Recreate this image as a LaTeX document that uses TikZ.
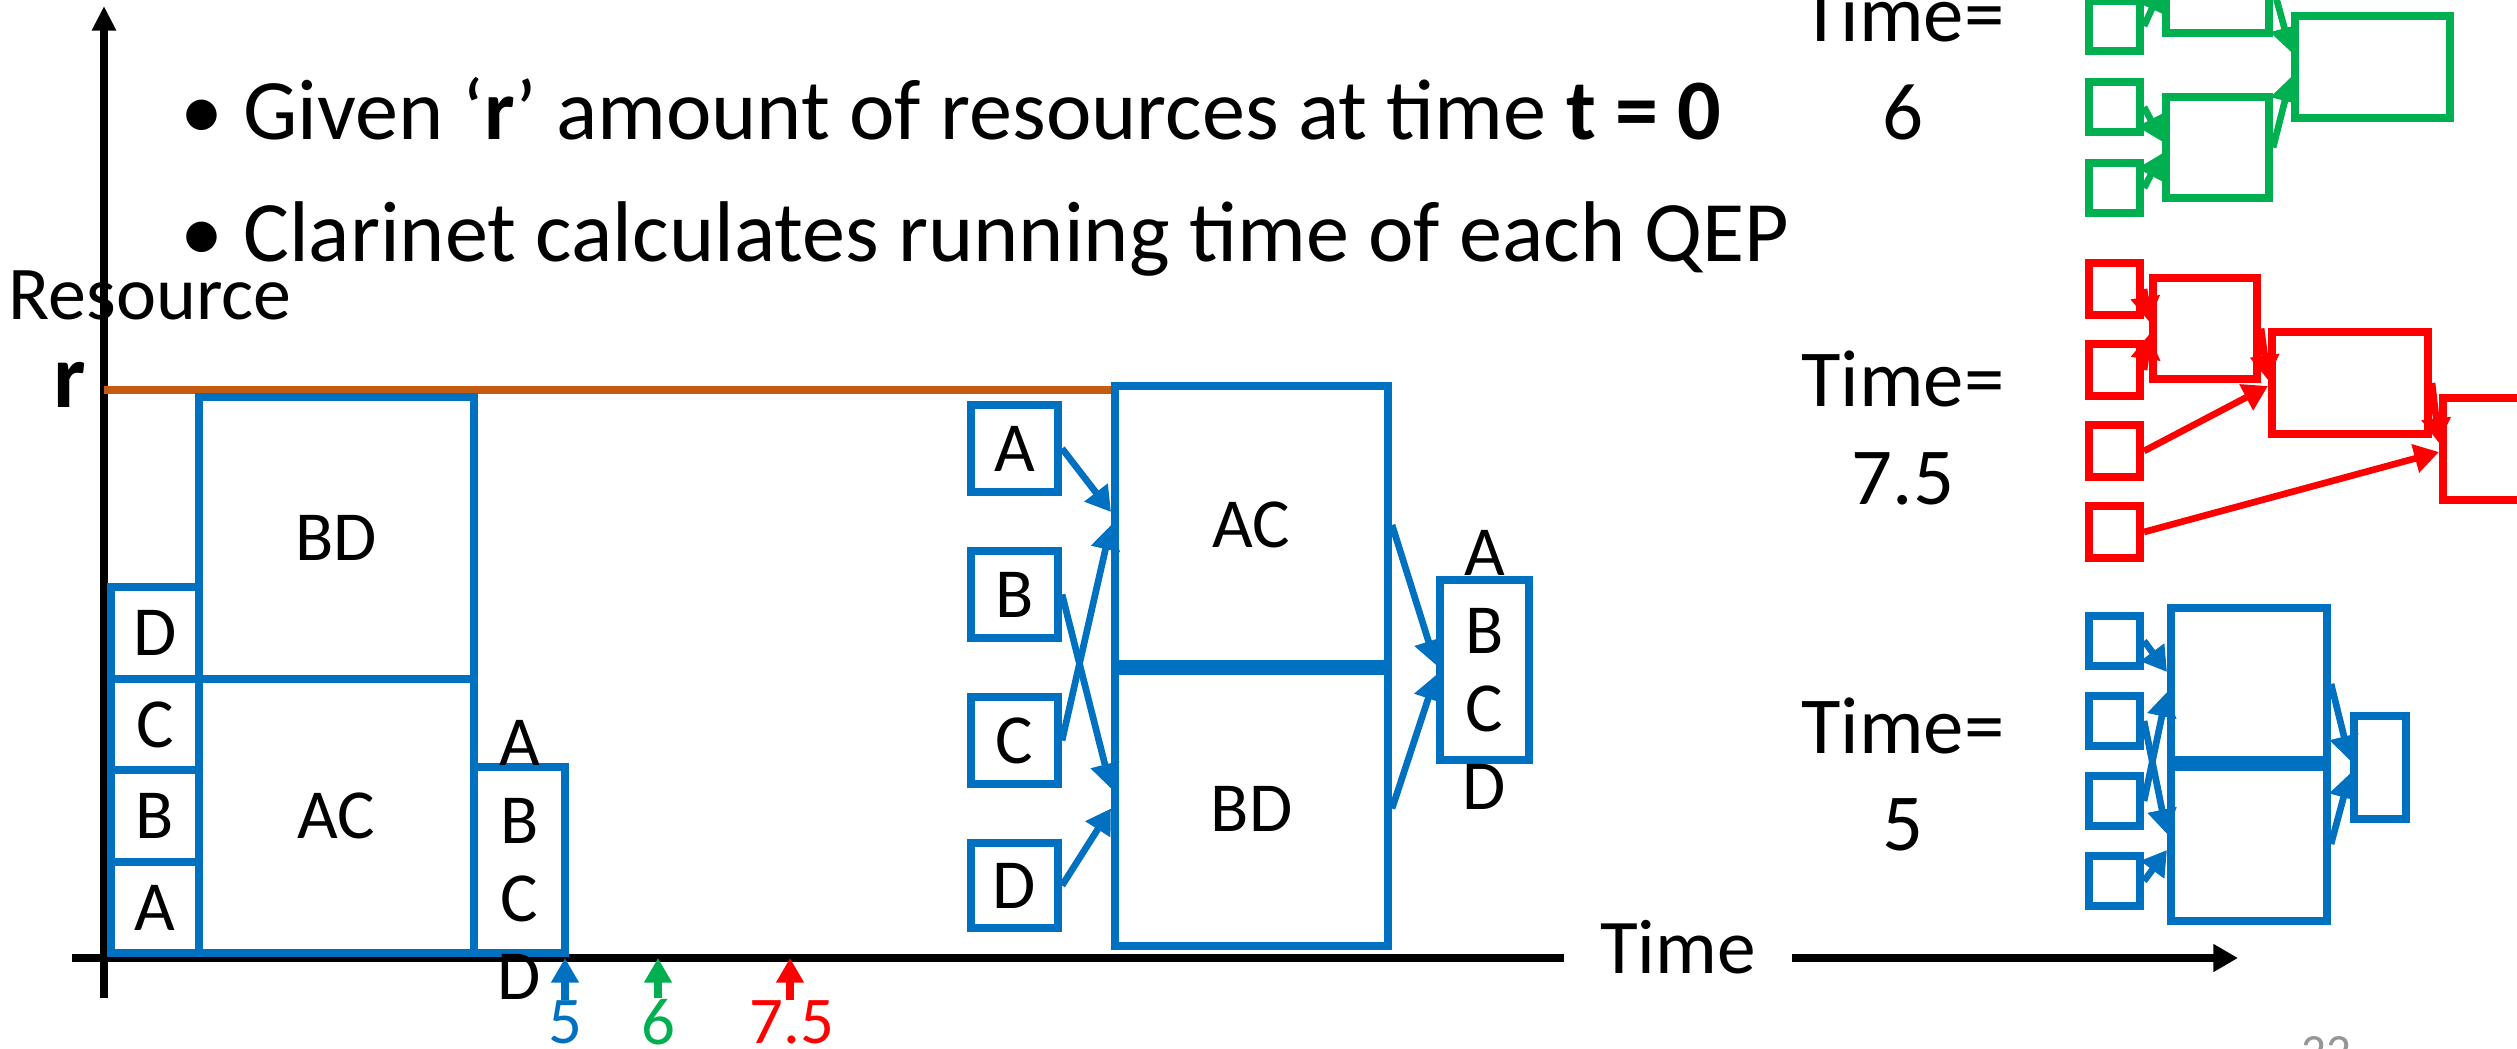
\documentclass[tikz,border=0pt]{standalone}
\usepackage{fontspec}
\setmainfont{Carlito}
\usepackage{xcolor}
\definecolor{qblue}{RGB}{0,112,192}
\definecolor{qgreen}{RGB}{0,176,80}
\definecolor{qred}{RGB}{255,0,0}
\definecolor{qorange}{RGB}{197,90,17}
\definecolor{qgray}{RGB}{150,150,150}
\usetikzlibrary{arrows.meta,positioning,fit,calc}

\begin{document}
\begin{tikzpicture}[x=0.01cm, y=-0.01cm, font=\fontsize{20}{22.2}\selectfont,
    qep/.style={draw=#1, line width=2.3pt, inner sep=0pt},
    qep/.default=qblue,
    stack/.style={align=center, inner sep=0pt},
    flow/.style={draw=#1, line width=1.9pt, -{Triangle[length=7pt,width=8pt]}},
    flow/.default=qblue,
    axis/.style={line width=2.2pt},
    tick/.style={draw=#1, line width=2.2pt, -{Triangle[length=7pt,width=7.5pt]}},
    point/.style={anchor=base west, inner sep=0pt, font=\fontsize{24.5}{28}\selectfont},
    tlabel/.style={align=center, font=\fontsize{23}{27.6}\selectfont},
    tnum/.style={inner sep=0pt, text=#1, font=\fontsize{19}{22}\selectfont},
  ]
  \useasboundingbox (0,0) rectangle (2517,1049);
  \clip (0,0) rectangle (2517,1049);

  % Bullet points
  \node[point] (pt1) at (180,140)
    {\textbullet\ Given `\textbf{r}' amount of resources at time \textbf{t = 0}};
  \node[point] (pt2) at (180,262)
    {\textbullet\ Clarinet calculates running time of each QEP};

  % Axes
  \coordinate (origin) at (104,958);
  \coordinate (ytop) at (104,6);
  \coordinate (ybot) at (104,998);
  \coordinate (xleft) at (72,958);
  \coordinate (xend) at (2238,958);
  \draw[axis, -{Triangle[length=7pt,width=6.5pt]}] (ybot) -- (ytop);
  \node[font=\fontsize{22}{26}\selectfont, inner sep=0.35cm] (timelbl) at (1678,947) {Time};
  \draw[axis] (xleft) -- (xleft -| timelbl.west);
  \draw[axis, -{Triangle[length=7pt,width=7.5pt]}] (timelbl.east |- origin) -- (xend);
  \node[anchor=base west, inner sep=0pt, font=\fontsize{21.6}{24}\selectfont] (reslbl) at (8,320) {Resource};
  \node[anchor=base, inner sep=0pt, font=\fontsize{26}{30}\selectfont\bfseries] (rlbl) at (70,408) {r};

  % Resource limit r
  \coordinate (rlevel) at (104,390);
  \node[qep, fit={(1115,386) (1388,664)}, label=center:AC] (mac) {};
  \draw[qorange, line width=2.2pt] (rlevel) -- (rlevel -| mac.west);

  % Left: schedule of the plan
  \node[qep, fit={(111,862) (199,953)}, label=center:A] (sa) {};
  \node[qep, fit={(111,770) (199,862)}, label=center:B] (sb) {};
  \node[qep, fit={(111,679) (199,770)}, label=center:C] (sc) {};
  \node[qep, fit={(111,587) (199,679)}, label=center:D] (sd) {};
  \node[qep, fit={(199,679) (474,953)}, label=center:AC] (sac) {};
  \node[qep, fit={(199,397) (474,679)}, label=center:BD] (sbd) {};
  \node[qep, fit={(474,767) (565,953)}] (sabcd) {};
  \node[stack] at (sabcd) {A\\B\\C\\D};

  % Finish times on the time axis
  \node[tnum=qblue] (t5) at (565,1022) {5};
  \node[tnum=qgreen] (t6) at (658,1022) {6};
  \node[tnum=qred] (t75) at (792,1022) {7.5};
  \draw[tick=qblue] (t5.north) -- (t5.north |- origin);
  \draw[tick=qgreen] (t6.north) -- (t6.north |- origin);
  \draw[tick=qred] ([xshift=-0.02cm]t75.north) -- ([xshift=-0.02cm]t75.north |- origin);

  % Middle: the QEP
  \node[qep, fit={(971,405) (1058,492)}, label=center:A] (ma) {};
  \node[qep, fit={(971,551) (1058,638)}, label=center:B] (mb) {};
  \node[qep, fit={(971,697) (1058,784)}, label=center:C] (mc) {};
  \node[qep, fit={(971,843) (1058,928)}, label=center:D] (md) {};
  \node[qep, fit={(1115,671) (1388,946)}, label=center:BD] (mbd) {};
  \node[qep, fit={(1440,580) (1529,760)}] (mout) {};
  \node[stack] at (mout) {A\\B\\C\\D};
  \draw[flow] (ma.east) -- ([yshift=0.13cm]mac.west);
  \draw[flow] (mc.east) -- (mac.west);
  \draw[flow] (mb.east) -- ([yshift=0.2cm]mbd.west);
  \draw[flow] (md.east) -- (mbd.west);
  \draw[flow] (mac.east) -- ([yshift=0.05cm]mout.west);
  \draw[flow] (mbd.east) -- ([yshift=-0.05cm]mout.west);

  % Right: plans at each time
  \node[tlabel] (tl6) at (1903,63) {Time=\\6};
  \node[tlabel] (tl75) at (1903,428) {Time=\\7.5};
  \node[tlabel] (tl5) at (1903,774) {Time=\\5};

  % Time = 6
  \node[qep=qgreen, fit={(2089,1) (2140,51)}] (g1) {};
  \node[qep=qgreen, fit={(2089,82) (2140,132)}] (g2) {};
  \node[qep=qgreen, fit={(2089,163) (2140,213)}] (g3) {};
  \node[qep=qgreen, fit={(2166,-60) (2269,33)}] (gj1) {};
  \node[qep=qgreen, fit={(2166,97) (2269,198)}] (gj2) {};
  \node[qep=qgreen, fit={(2295,16) (2450,118)}] (gj3) {};
  \draw[flow=qgreen] (g1.east) -- (gj1.west);
  \draw[flow=qgreen] (g2.east) -- ([yshift=0.06cm]gj2.west);
  \draw[flow=qgreen] (g3.east) -- ([yshift=-0.06cm]gj2.west);
  \draw[flow=qgreen] (gj1.east) -- ([yshift=0.15cm]gj3.west);
  \draw[flow=qgreen] (gj2.east) -- ([yshift=-0.1cm]gj3.west);

  % Time = 7.5
  \node[qep=qred, fit={(2089,263) (2140,315)}] (r1) {};
  \node[qep=qred, fit={(2089,344) (2140,396)}] (r2) {};
  \node[qep=qred, fit={(2089,425) (2140,477)}] (r3) {};
  \node[qep=qred, fit={(2089,506) (2140,558)}] (r4) {};
  \node[qep=qred, fit={(2153,278) (2257,379)}] (rj1) {};
  \node[qep=qred, fit={(2272,332) (2428,434)}] (rj2) {};
  \node[qep=qred, fit={(2443,398) (2540,500)}] (rj3) {};
  \draw[flow=qred] (r1.east) -- ([yshift=0.07cm]rj1.west);
  \draw[flow=qred] (r2.east) -- ([yshift=-0.06cm]rj1.west);
  \draw[flow=qred] (rj1.east) -- ([yshift=0.03cm]rj2.west);
  \draw[flow=qred] (r3.east) -- ([yshift=-0.03cm]rj2.west);
  \draw[flow=qred] (rj2.east) -- ([yshift=0.06cm]rj3.west);
  \draw[flow=qred] (r4.east) -- ([yshift=-0.03cm]rj3.west);

  % Time = 5
  \node[qep, fit={(2089,616) (2140,666)}] (b1) {};
  \node[qep, fit={(2089,696) (2140,746)}] (b2) {};
  \node[qep, fit={(2089,776) (2140,826)}] (b3) {};
  \node[qep, fit={(2089,856) (2140,906)}] (b4) {};
  \node[qep, fit={(2171,608) (2327,760)}] (bj1) {};
  \node[qep, fit={(2171,767) (2327,921)}] (bj2) {};
  \node[qep, fit={(2354,716) (2406,819)}] (bout) {};
  \draw[flow] (b1.east) -- ([yshift=0.12cm]bj1.west);
  \draw[flow] (b3.east) -- ([yshift=-0.08cm]bj1.west);
  \draw[flow] (b2.east) -- ([yshift=0.1cm]bj2.west);
  \draw[flow] (b4.east) -- ([yshift=-0.06cm]bj2.west);
  \draw[flow] (bj1.east) -- ([yshift=0.07cm]bout.west);
  \draw[flow] (bj2.east) -- ([yshift=-0.06cm]bout.west);

  % Slide number
  \node[anchor=north, inner sep=0pt, text=qgray, font=\fontsize{14}{16}\selectfont] (pgno) at (2326,1036) {22};
\end{tikzpicture}
\end{document}
